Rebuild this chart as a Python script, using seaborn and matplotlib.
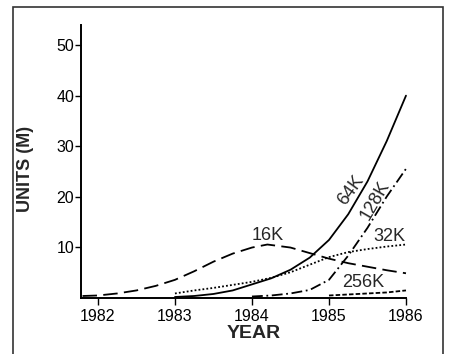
import pandas as pd
import matplotlib
matplotlib.use('Agg')
import matplotlib.pyplot as plt
import seaborn as sns
from matplotlib.patches import Rectangle

# values (year, units in millions)
yr_16k = [1981.8, 1982, 1982.25, 1982.5, 1982.75, 1983, 1983.25, 1983.5, 1983.75, 1984,
          1984.2, 1984.5, 1984.75, 1985, 1985.25, 1985.5, 1985.75, 1986]
u_16k = [0.3, 0.4, 0.8, 1.4, 2.3, 3.5, 5.2, 7.1, 8.7, 9.9,
         10.5, 9.9, 8.8, 7.7, 6.8, 6.1, 5.4, 4.8]

yr_32k = [1983, 1983.25, 1983.5, 1983.75, 1984, 1984.25, 1984.5, 1984.75, 1985, 1985.25, 1985.5, 1985.75, 1986]
u_32k = [0.8, 1.4, 1.9, 2.5, 3.1, 3.9, 5.0, 6.5, 8.0, 9.0, 9.6, 10.1, 10.5]

yr_64k = [1983, 1983.25, 1983.5, 1983.75, 1984, 1984.25, 1984.5, 1984.75, 1985, 1985.25, 1985.5, 1985.75, 1986]
u_64k = [0.1, 0.3, 0.7, 1.4, 2.6, 3.8, 5.5, 7.9, 11.4, 16.5, 23.0, 31.0, 40.0]

yr_128k = [1984, 1984.25, 1984.5, 1984.75, 1985, 1985.25, 1985.5, 1985.75, 1986]
u_128k = [0.2, 0.4, 0.8, 1.5, 3.5, 8.3, 13.8, 20.0, 25.5]

yr_256k = [1985, 1985.25, 1985.5, 1985.75, 1986]
u_256k = [0.4, 0.6, 0.8, 1.0, 1.4]

x_ticks = [1982, 1983, 1984, 1985, 1986]
y_ticks = [10, 20, 30, 40, 50]

sns.set_style('ticks')
plt.rcParams['font.family'] = ['Liberation Sans', 'DejaVu Sans']

fig = plt.figure(figsize=(4.49, 3.54), dpi=100)
ax = fig.add_axes([0.1804, 0.1596, 0.7238, 0.7698])

lw = 1.3
series = [
    (yr_16k, u_16k, (0, (8, 3.5))),
    (yr_32k, u_32k, (0, (1, 1.2))),
    (yr_64k, u_64k, '-'),
    (yr_128k, u_128k, (0, (6, 2, 1, 2))),
    (yr_256k, u_256k, (0, (2.5, 1.2))),
]
for xs, ys, ls in series:
    d = pd.DataFrame({'year': xs, 'units': ys})
    sns.lineplot(data=d, x='year', y='units', ax=ax, color='black',
                 linewidth=lw, linestyle=ls, clip_on=False)

# curve labels
ax.text(1984.2, 10.7, '16K', ha='center', va='bottom', fontsize=13)
ax.text(1985.78, 10.5, '32K', ha='center', va='bottom', fontsize=13)
ax.text(1985.44, 1.2, '256K', ha='center', va='bottom', fontsize=13)
ax.text(1985.29, 21.3, '64K', ha='center', va='center', fontsize=13, rotation=54)
ax.text(1985.6, 19.3, '128K', ha='center', va='center', fontsize=13, rotation=60)

ax.set_xlim(1981.78, 1986.0)
ax.set_ylim(0, 54)
ax.set_xticks(x_ticks)
ax.set_xticklabels([str(t) for t in x_ticks])
ax.set_yticks(y_ticks)
ax.tick_params(axis='both', labelsize=11.5, width=1, colors='black')
ax.tick_params(axis='x', length=5, pad=3)
ax.tick_params(axis='y', length=4.5, pad=0.5)
for s in ['top', 'right']:
    ax.spines[s].set_visible(False)
for s in ['left', 'bottom']:
    ax.spines[s].set_linewidth(1.4)
    ax.spines[s].set_color('black')

ax.set_xlabel('YEAR', fontsize=14, fontweight='bold')
ax.xaxis.set_label_coords(0.531, -0.1)
ax.set_ylabel('UNITS (M)', fontsize=13, fontweight='bold')
ax.yaxis.set_label_coords(-0.145, 0.47)

# outer frame of the scanned figure
fig.patches.append(Rectangle((0.029, -0.05), 0.958, 1.03, transform=fig.transFigure,
                             fill=False, edgecolor='#333333', linewidth=1.2))

fig.savefig('out.png', dpi=100)
